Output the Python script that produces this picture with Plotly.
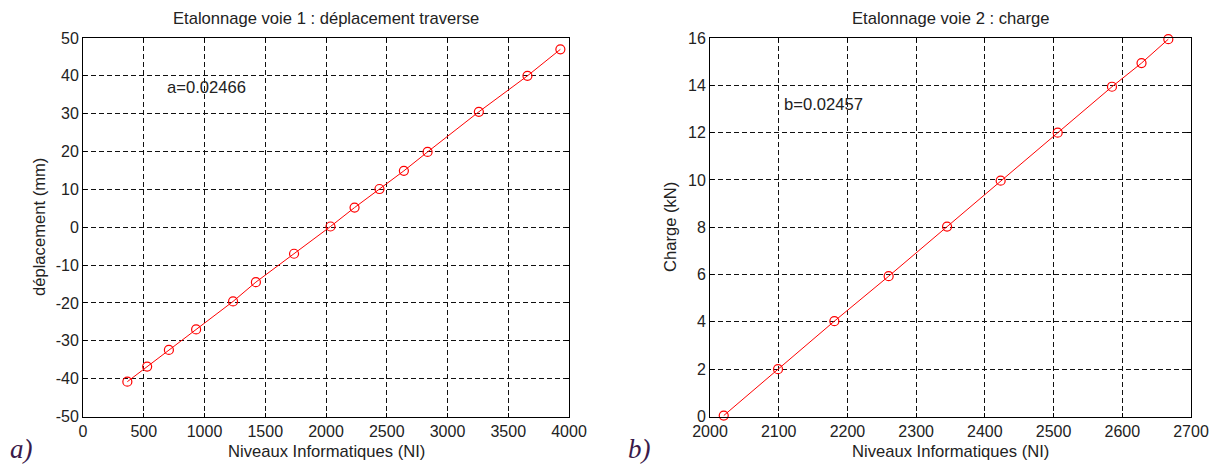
import plotly.graph_objects as go

# Panel a) : déplacement traverse
ni_a = [365, 528, 707, 931, 1235, 1423, 1737, 2037, 2235, 2440, 2641, 2836, 3258, 3658, 3929]
dep_a = [-40.8, -36.8, -32.4, -27.0, -19.6, -14.5, -7.0, 0.2, 5.2, 10.1, 14.9, 19.9, 30.5, 40.0, 47.0]

# Panel b) : charge
ni_b = [2020, 2099, 2181, 2260, 2345, 2423, 2506, 2585, 2628, 2667]
charge_b = [0.04, 2.0, 4.03, 5.93, 8.03, 9.97, 12.0, 13.94, 14.94, 15.95]

xticks_a = [0, 500, 1000, 1500, 2000, 2500, 3000, 3500, 4000]
yticks_a = [-50, -40, -30, -20, -10, 0, 10, 20, 30, 40, 50]
xticks_b = [2000, 2100, 2200, 2300, 2400, 2500, 2600, 2700]
yticks_b = [0, 2, 4, 6, 8, 10, 12, 14, 16]

titles = ["Etalonnage voie 1 : déplacement traverse", "Etalonnage voie 2 : charge"]
xlabel = "Niveaux Informatiques (NI)"
ylabels = ["déplacement (mm)", "Charge (kN)"]
coef_texts = ["a=0.02466", "b=0.02457"]
panel_tags = ["a)", "b)"]

W, H = 1215, 464
FONT = "Liberation Sans, Arial, sans-serif"
RED = "#ff0000"
TXT = 16.6

fig = go.Figure()

fig.add_trace(go.Scatter(
    x=ni_a, y=dep_a, mode="lines+markers", xaxis="x", yaxis="y",
    line=dict(color=RED, width=1),
    marker=dict(symbol="circle-open", size=9, color=RED, line=dict(width=1.2, color=RED)),
    showlegend=False, cliponaxis=False))
fig.add_trace(go.Scatter(
    x=ni_b, y=charge_b, mode="lines+markers", xaxis="x2", yaxis="y2",
    line=dict(color=RED, width=1),
    marker=dict(symbol="circle-open", size=9, color=RED, line=dict(width=1.2, color=RED)),
    showlegend=False, cliponaxis=False))

ydom = [1 - 416.5 / H, 1 - 38 / H]
xdom_a = [83 / W, 569 / W]
xdom_b = [710 / W, 1191 / W]

def axis(dom, rng, ticks, anchor):
    return dict(
        domain=dom, range=rng, tickvals=ticks, ticktext=[str(t) for t in ticks],
        anchor=anchor, showline=True, linecolor="black", linewidth=1, mirror="ticks",
        ticks="inside", ticklen=4, tickcolor="black", tickwidth=1, automargin=False,
        showgrid=True, gridcolor="#111111", gridwidth=1, griddash="5px,3px",
        zeroline=False, tickfont=dict(family=FONT, size=16, color="#222222"),
        fixedrange=True)

fig.update_layout(
    width=W, height=H, margin=dict(l=0, r=0, t=0, b=0, pad=0, autoexpand=False),
    paper_bgcolor="white", plot_bgcolor="white",
    font=dict(family=FONT, size=16, color="#222222"),
    xaxis=axis(xdom_a, [0, 4000], xticks_a, "y"),
    yaxis=axis(ydom, [-50, 50], yticks_a, "x"),
    xaxis2=axis(xdom_b, [2000, 2700], xticks_b, "y2"),
    yaxis2=axis(ydom, [0, 16], yticks_b, "x2"),
)

def paper_x(px):
    return px / W

def paper_y(py):
    return 1 - py / H

anns = []
anns.append(dict(text=titles[0], x=paper_x(326), y=paper_y(18), xref="paper", yref="paper",
                 showarrow=False, xanchor="center", yanchor="middle", font=dict(size=TXT)))
anns.append(dict(text=titles[1], x=paper_x(950), y=paper_y(18), xref="paper", yref="paper",
                 showarrow=False, xanchor="center", yanchor="middle", font=dict(size=TXT)))
for cx in (326, 950):
    anns.append(dict(text=xlabel, x=paper_x(cx), y=paper_y(451), xref="paper", yref="paper",
                     showarrow=False, xanchor="center", yanchor="middle", font=dict(size=TXT)))
anns.append(dict(text=ylabels[0], x=paper_x(39), y=paper_y(227), xref="paper", yref="paper",
                 showarrow=False, textangle=-90, xanchor="center", yanchor="middle", font=dict(size=TXT)))
anns.append(dict(text=ylabels[1], x=paper_x(670), y=paper_y(227), xref="paper", yref="paper",
                 showarrow=False, textangle=-90, xanchor="center", yanchor="middle", font=dict(size=TXT)))
anns.append(dict(text=coef_texts[0], x=675, y=36.8, xref="x", yref="y",
                 showarrow=False, xanchor="left", yanchor="middle", font=dict(size=TXT)))
anns.append(dict(text=coef_texts[1], x=2105, y=13.2, xref="x2", yref="y2",
                 showarrow=False, xanchor="left", yanchor="middle", font=dict(size=TXT)))
for tag, px in zip(panel_tags, (8, 626)):
    anns.append(dict(text=tag, x=paper_x(px), y=paper_y(449), xref="paper", yref="paper",
                     showarrow=False, xanchor="left", yanchor="middle",
                     font=dict(family="Liberation Serif, Times New Roman, serif", size=27,
                               color="#3a1a4a", style="italic")))

fig.update_layout(annotations=anns)
fig.write_html(
    "out.html",
    config={"displayModeBar": False, "staticPlot": True},
    post_script="document.body.style.margin='0';document.body.style.padding='0';"
                "document.body.style.overflow='hidden';document.documentElement.style.overflow='hidden';",
)
